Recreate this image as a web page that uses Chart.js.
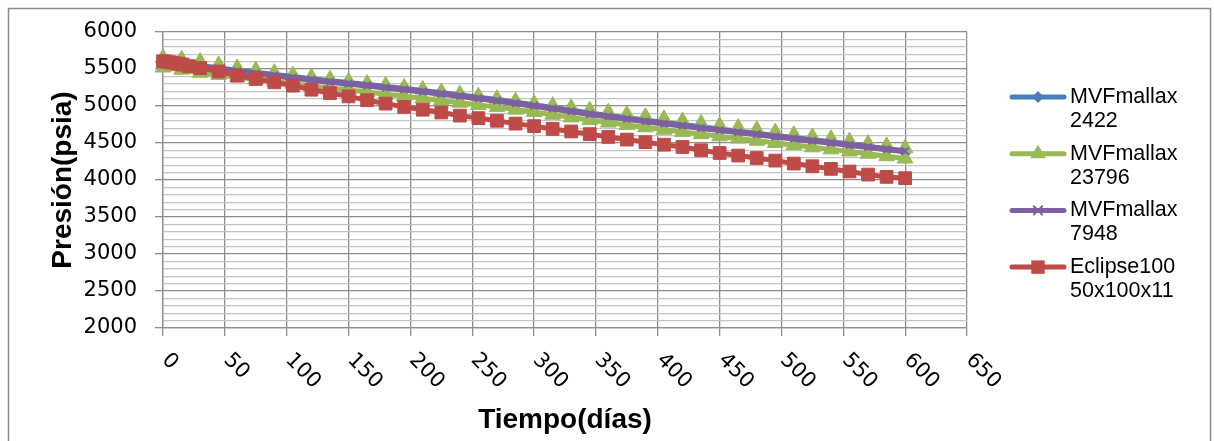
<!DOCTYPE html>
<html>
<head>
<meta charset="utf-8">
<script src="https://cdn.jsdelivr.net/npm/chart.js@4.4.0/dist/chart.umd.min.js"></script>
<style>
  html, body { margin: 0; padding: 0; background: #fff; }
  #wrap { width: 1214px; height: 441px; }
</style>
</head>
<body>
<div id="wrap"><canvas id="chart" width="1214" height="441"></canvas></div>
<script>
// tiempo (días) de los reportes
var days = [0, 15, 30, 45, 60, 75, 90, 105, 120, 135, 150, 165, 180, 195, 210, 225, 240, 255, 270, 285,
  300, 315, 330, 345, 360, 375, 390, 405, 420, 435, 450, 465, 480, 495, 510, 525, 540, 555, 570, 585, 600];

var mvf2422 = [5610, 5582, 5552, 5518, 5488, 5458, 5430, 5401, 5373, 5346, 5320, 5294, 5268, 5240, 5213,
  5183, 5153, 5123, 5090, 5056, 5020, 4983, 4946, 4910, 4876, 4844, 4813, 4782, 4753, 4722, 4692, 4663,
  4635, 4606, 4578, 4549, 4520, 4490, 4460, 4420, 4380];

var mvf23796 = [5520, 5490, 5450, 5420, 5388, 5358, 5330, 5300, 5272, 5244, 5216, 5188, 5160, 5132, 5104,
  5075, 5045, 5015, 4985, 4952, 4918, 4882, 4846, 4810, 4776, 4744, 4712, 4680, 4650, 4620, 4590, 4560,
  4530, 4500, 4472, 4442, 4414, 4385, 4355, 4322, 4290];

var mvf23796b = [5650, 5630, 5600, 5555, 5515, 5482, 5450, 5418, 5388, 5360, 5332, 5303, 5278, 5250, 5222,
  5190, 5160, 5130, 5098, 5066, 5032, 5005, 4975, 4943, 4915, 4885, 4855, 4826, 4796, 4765, 4732, 4708,
  4678, 4645, 4612, 4582, 4556, 4522, 4490, 4460, 4430];

var mvf7948 = [5595, 5565, 5535, 5500, 5470, 5440, 5412, 5383, 5355, 5328, 5302, 5276, 5250, 5222, 5195,
  5165, 5135, 5105, 5072, 5038, 5002, 4965, 4928, 4892, 4858, 4826, 4795, 4764, 4735, 4704, 4674, 4645,
  4617, 4588, 4560, 4531, 4502, 4474, 4445, 4416, 4388];

var eclipseDays = [0, 2, 5, 8, 12, 16, 21, 30, 45, 60, 75, 90, 105, 120, 135, 150, 165, 180, 195, 210, 225,
  240, 255, 270, 285, 300, 315, 330, 345, 360, 375, 390, 405, 420, 435, 450, 465, 480, 495, 510, 525,
  540, 555, 570, 585, 600];
var eclipse = [5605, 5600, 5592, 5585, 5572, 5560, 5538, 5512, 5466, 5410, 5365, 5320, 5275, 5220, 5175,
  5130, 5078, 5032, 4988, 4950, 4912, 4870, 4836, 4800, 4762, 4728, 4690, 4656, 4620, 4582, 4546, 4512,
  4477, 4446, 4402, 4365, 4330, 4297, 4262, 4222, 4186, 4150, 4115, 4073, 4042, 4025];

var xTickLabels = ["0", "50", "100", "150", "200", "250", "300", "350", "400", "450", "500", "550", "600", "650"];
var legendText = [["MVFmallax", "2422"], ["MVFmallax", "23796"], ["MVFmallax", "7948"], ["Eclipse100", "50x100x11"]];

var BLUE = "#4a7ebb", GREEN = "#98b954", PURPLE = "#7d60a0", RED = "#be4b48";
var MAJOR = "#8c8c8c", MINOR = "#c4c4c4";

function pts(xs, ys) {
  return xs.map(function (x, i) { return { x: x, y: ys[i] }; });
}

function marker(ctx, style, x, y, r, color) {
  ctx.save();
  ctx.fillStyle = color;
  ctx.strokeStyle = color;
  ctx.lineWidth = 2;
  ctx.beginPath();
  if (style === "rectRot") {
    ctx.moveTo(x, y - r); ctx.lineTo(x + r, y); ctx.lineTo(x, y + r); ctx.lineTo(x - r, y); ctx.closePath(); ctx.fill();
  } else if (style === "triangle") {
    ctx.moveTo(x, y - r); ctx.lineTo(x + r * 0.87, y + r / 2); ctx.lineTo(x - r * 0.87, y + r / 2); ctx.closePath(); ctx.fill();
  } else if (style === "crossRot") {
    var d = r * 0.7;
    ctx.moveTo(x - d, y - d); ctx.lineTo(x + d, y + d); ctx.moveTo(x + d, y - d); ctx.lineTo(x - d, y + d); ctx.stroke();
  } else {
    var s = r * 0.707;
    ctx.rect(x - s, y - s, 2 * s, 2 * s); ctx.fill();
  }
  ctx.restore();
}

var decor = {
  id: "decor",
  beforeDraw: function (chart) {
    var ctx = chart.ctx;
    ctx.save();
    ctx.fillStyle = "#fff";
    ctx.fillRect(0, 0, chart.width, chart.height);
    ctx.strokeStyle = "#8a8a8a";
    ctx.lineWidth = 1.5;
    ctx.strokeRect(8.5, 8.5, 1202, 460);
    ctx.restore();
  },
  afterDraw: function (chart) {
    var ctx = chart.ctx;
    var xs = chart.scales.x, area = chart.chartArea;
    ctx.save();
    ctx.fillStyle = "#000";

    // etiquetas del eje x giradas
    ctx.font = "21px 'DejaVu Sans'";
    ctx.textAlign = "left";
    ctx.textBaseline = "middle";
    xs.ticks.forEach(function (t, i) {
      var px = xs.getPixelForValue(t.value);
      ctx.save();
      ctx.translate(px + 2, area.bottom + 29);
      ctx.rotate(Math.PI / 4);
      ctx.fillText(xTickLabels[i] || "", 0, 0);
      ctx.restore();
    });

    // títulos
    ctx.font = "bold 28px 'Liberation Sans'";
    ctx.textAlign = "center";
    ctx.fillText("Tiempo(días)", (area.left + area.right) / 2, 420);
    ctx.save();
    ctx.translate(63, (area.top + area.bottom) / 2);
    ctx.rotate(-Math.PI / 2);
    ctx.fillText("Presión(psia)", 0, 0);
    ctx.restore();

    // leyenda
    var entries = [
      { c: BLUE, s: "rectRot", r: 6 },
      { c: GREEN, s: "triangle", r: 9 },
      { c: PURPLE, s: "crossRot", r: 6 },
      { c: RED, s: "rect", r: 9.5 }
    ];
    ctx.font = "21.5px 'Liberation Sans'";
    ctx.textAlign = "left";
    entries.forEach(function (e, i) {
      var y = 97 + i * 56.7;
      ctx.strokeStyle = e.c;
      ctx.lineWidth = 5;
      ctx.lineCap = "round";
      ctx.beginPath();
      ctx.moveTo(1012, y);
      ctx.lineTo(1064, y);
      ctx.stroke();
      marker(ctx, e.s, 1038, y, e.r, e.c);
      ctx.fillStyle = "#000";
      ctx.fillText(legendText[i][0], 1070, y);
      ctx.fillText(legendText[i][1], 1070, y + 24);
    });
    ctx.restore();
  }
};

function ds(label, data, color, style, r, width, order, showLine) {
  return {
    label: label,
    data: data,
    borderColor: color,
    backgroundColor: color,
    borderWidth: width,
    pointStyle: style,
    pointRadius: r,
    pointBorderWidth: style === "crossRot" ? 2 : 1,
    pointBackgroundColor: color,
    pointBorderColor: color,
    showLine: showLine,
    tension: 0,
    clip: false,
    order: order
  };
}

new Chart(document.getElementById("chart"), {
  type: "line",
  data: {
    datasets: [
      ds("MVFmallax 2422", pts(days, mvf2422), BLUE, "rectRot", 6.5, 4.5, 3, true),
      ds("MVFmallax 23796", pts(days, mvf23796), GREEN, "triangle", 9, 5, 2, true),
      ds("MVFmallax 23796 b", pts(days, mvf23796b), GREEN, "triangle", 9, 5, 2, false),
      ds("MVFmallax 7948", pts(days, mvf7948), PURPLE, "crossRot", 5, 6, 1, true),
      ds("Eclipse100 50x100x11", pts(eclipseDays, eclipse), RED, "rect", 9, 5, 0, true)
    ]
  },
  options: {
    responsive: false,
    animation: false,
    devicePixelRatio: 1,
    layout: { padding: { left: 0, top: 32, right: 247, bottom: 0 } },
    plugins: { legend: { display: false }, tooltip: { enabled: false } },
    scales: {
      x: {
        type: "linear",
        min: 0,
        max: 650,
        ticks: { stepSize: 50, display: false },
        grid: { color: MAJOR, tickColor: MAJOR, tickLength: 8, lineWidth: 1.3 },
        border: { color: MAJOR, width: 1.3 },
        afterFit: function (s) { s.height = 113; }
      },
      y: {
        min: 2000,
        max: 6000,
        ticks: {
          stepSize: 100,
          autoSkip: false,
          padding: 18,
          color: "#000",
          font: { family: "DejaVu Sans", size: 21 },
          callback: function (v) { return v % 500 === 0 ? v : ""; }
        },
        grid: {
          color: function (c) { return c.tick.value % 500 === 0 ? MAJOR : MINOR; },
          tickColor: function (c) { return c.tick.value % 500 === 0 ? MAJOR : "rgba(0,0,0,0)"; },
          lineWidth: 1.3,
          tickLength: 8
        },
        border: { color: MAJOR, width: 1.3 },
        afterFit: function (s) { s.width = 163; }
      }
    }
  },
  plugins: [decor]
});
</script>
</body>
</html>
